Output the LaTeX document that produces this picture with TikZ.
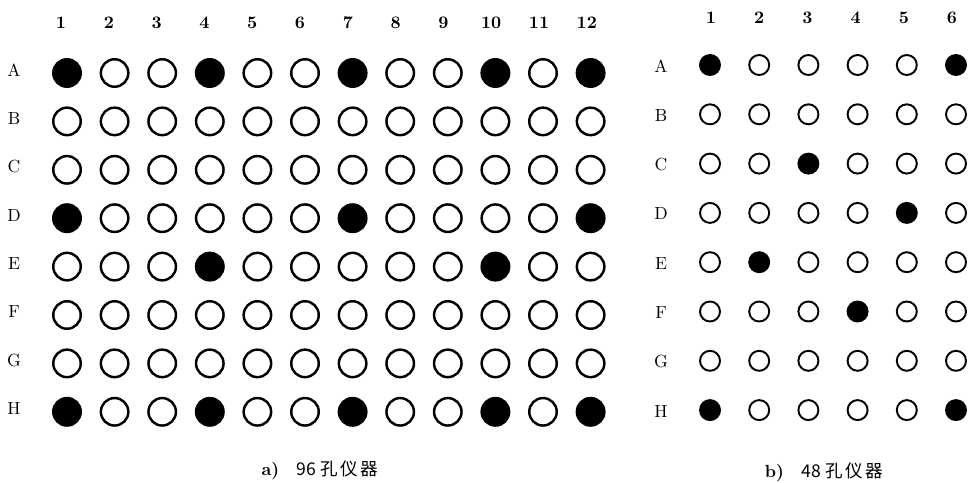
\documentclass[tikz,border=0pt]{standalone}
\usepackage{fontspec}
\newfontfamily\cjk{Noto Sans CJK SC}
\usetikzlibrary{positioning}

\begin{document}
\begin{tikzpicture}[
  x=0.02cm,y=-0.02cm,
  wellA/.style={circle,draw=black,line width=1.4pt,minimum size=0.55cm,inner sep=0pt},
  wellB/.style={circle,draw=black,line width=1.1pt,minimum size=0.40cm,inner sep=0pt},
  full/.style={fill=black},
  rowlbl/.style={font=\normalsize},
  collbl/.style={font=\normalsize\bfseries},
  capt/.style={font=\normalsize},
  fa-A1/.style=full, fa-A4/.style=full, fa-A7/.style=full, fa-A10/.style=full, fa-A12/.style=full,
  fa-D1/.style=full, fa-D7/.style=full, fa-D12/.style=full,
  fa-E4/.style=full, fa-E10/.style=full,
  fa-H1/.style=full, fa-H4/.style=full, fa-H7/.style=full, fa-H10/.style=full, fa-H12/.style=full,
  fb-A1/.style=full, fb-A6/.style=full, fb-C3/.style=full, fb-D5/.style=full,
  fb-E2/.style=full, fb-F4/.style=full, fb-H1/.style=full, fb-H6/.style=full
]
  \useasboundingbox (0,0) rectangle (973,483);

  % 96-well plate
  \foreach \c in {1,...,12}
    \node[collbl] (a-c\c) at ({61+47.8*(\c-1)},23) {\c};
  \foreach \r [count=\i] in {A,B,C,D,E,F,G,H} {
    \node[rowlbl] (a-\r) at (14,{70+48.4*(\i-1)}) {\r};
    \foreach \c in {1,...,12}
      \node[wellA,fa-\r\c/.try] (a-\r\c) at ({67+47.6*(\c-1)},{73+48.4*(\i-1)}) {};
  }
  \node[capt] (capA) at (320,470) {{\bfseries a)}\quad{\cjk 96\ 孔\kern1.5pt 仪\kern1.5pt 器}};

  % 48-well plate
  \foreach \c in {1,...,6}
    \node[collbl] (b-c\c) at ({711+48.2*(\c-1)},18) {\c};
  \foreach \r [count=\i] in {A,B,C,D,E,F,G,H} {
    \node[rowlbl] (b-\r) at (661,{66+49.3*(\i-1)}) {\r};
    \foreach \c in {1,...,6}
      \node[wellB,fb-\r\c/.try] (b-\r\c) at ({710+49.2*(\c-1)},{65+49.3*(\i-1)}) {};
  }
  \node[capt] (capB) at (824,472) {{\bfseries b)}\quad{\cjk 48\ 孔\kern1.5pt 仪\kern1.5pt 器}};
\end{tikzpicture}
\end{document}
